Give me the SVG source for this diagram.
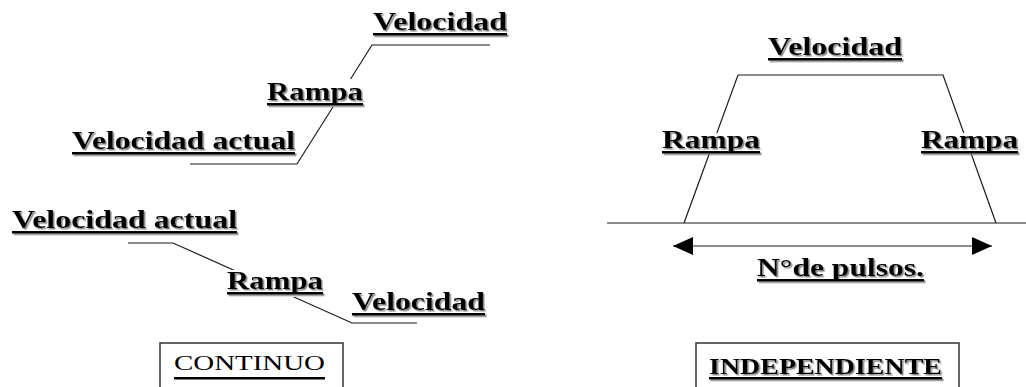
<svg xmlns="http://www.w3.org/2000/svg" width="1026" height="387" viewBox="0 0 1026 387">
<style>
.lbl{font-family:"Liberation Serif","Times New Roman",serif;font-weight:bold;font-size:26px;fill:#000}
.ttl{font-family:"Liberation Serif","Times New Roman",serif;font-size:20px;fill:#000}
.ttlb{font-family:"Liberation Serif","Times New Roman",serif;font-weight:bold;font-size:23px;fill:#000}
.sh{filter:url(#sh)}
.ul{fill:#000}
.bg{fill:#fff}
.ln{stroke:#1a1a1a;stroke-width:1.2;fill:none}
.box{fill:#fff;stroke:#333;stroke-width:1.5}
</style>
<defs>
<filter id="sh" x="-10%" y="-20%" width="120%" height="150%">
<feDropShadow dx="1.5" dy="1.5" stdDeviation="0.7" flood-color="#777" flood-opacity="0.9"/>
</filter>
<marker id="ah" viewBox="0 0 20 18" refX="20" refY="9" markerWidth="20" markerHeight="18" markerUnits="userSpaceOnUse" orient="auto-start-reverse">
<path d="M0,0 L20,9 L0,18 Z" fill="#000"/>
</marker>
</defs>
<rect width="1026" height="387" fill="#fff"/>
<g id="connectors">
<polyline class="ln" points="490,45 372,45 297,164 190,164"/>
<polyline class="ln" points="128,243 173,243 352,323 417,323"/>
<polyline class="ln" points="684,223 738,75 943,75 996,223"/>
<line class="ln" x1="607" y1="223" x2="1026" y2="223"/>
<line class="ln" x1="673" y1="246" x2="992" y2="246" marker-start="url(#ah)" marker-end="url(#ah)"/>
</g>
<g id="n-vel-top"><rect class="bg" x="371" y="10" width="138" height="28"/><g class="sh"><text class="lbl" x="373" y="30" textLength="134" lengthAdjust="spacingAndGlyphs">Velocidad</text><rect class="ul" x="373" y="33" width="134" height="2.5"/></g></g>
<g id="n-rampa-top"><rect class="bg" x="265" y="79" width="100" height="28"/><g class="sh"><text class="lbl" x="267" y="100" textLength="96" lengthAdjust="spacingAndGlyphs">Rampa</text><rect class="ul" x="267" y="103" width="96" height="2.5"/></g></g>
<g id="n-velact-top"><rect class="bg" x="70" y="128" width="228" height="28"/><g class="sh"><text class="lbl" x="72" y="149" textLength="223" lengthAdjust="spacingAndGlyphs">Velocidad actual</text><rect class="ul" x="72" y="152" width="223" height="2.5"/></g></g>
<g id="n-velact-bot"><rect class="bg" x="10" y="207" width="230" height="28"/><g class="sh"><text class="lbl" x="12" y="228" textLength="225" lengthAdjust="spacingAndGlyphs">Velocidad actual</text><rect class="ul" x="12" y="231" width="225" height="2.5"/></g></g>
<g id="n-rampa-bot"><rect class="bg" x="227" y="270" width="97" height="27"/><g class="sh"><text class="lbl" x="227" y="289" textLength="96" lengthAdjust="spacingAndGlyphs">Rampa</text><rect class="ul" x="227" y="292" width="96" height="2.5"/></g></g>
<g id="n-vel-bot"><rect class="bg" x="350" y="289" width="138" height="28"/><g class="sh"><text class="lbl" x="352" y="310" textLength="133" lengthAdjust="spacingAndGlyphs">Velocidad</text><rect class="ul" x="352" y="313" width="133" height="2.5"/></g></g>
<g id="n-continuo"><rect class="box" x="160" y="343" width="183" height="60"/><text class="ttl" x="174" y="370" textLength="151" lengthAdjust="spacingAndGlyphs">CONTINUO</text><rect class="ul" x="174" y="377" width="151" height="2.5"/></g>
<g id="n-vel-right"><rect class="bg" x="766" y="36" width="138" height="26"/><g class="sh"><text class="lbl" x="768" y="55" textLength="134" lengthAdjust="spacingAndGlyphs">Velocidad</text><rect class="ul" x="768" y="58" width="134" height="2.5"/></g></g>
<g id="n-rampa-left"><rect class="bg" x="660" y="133" width="101" height="20"/><g class="sh"><text class="lbl" x="662" y="148" textLength="98" lengthAdjust="spacingAndGlyphs">Rampa</text><rect class="ul" x="662" y="151" width="98" height="2.5"/></g></g>
<g id="n-rampa-right"><rect class="bg" x="919" y="133" width="101" height="20"/><g class="sh"><text class="lbl" x="921" y="148" textLength="97" lengthAdjust="spacingAndGlyphs">Rampa</text><rect class="ul" x="921" y="151" width="97" height="2.5"/></g></g>
<g id="n-pulsos"><rect class="bg" x="755" y="255" width="172" height="28"/><g class="sh"><text class="lbl" x="757" y="276" textLength="167" lengthAdjust="spacingAndGlyphs">N°de pulsos.</text><rect class="ul" x="757" y="279" width="167" height="2.5"/></g></g>
<g id="n-indep"><rect class="box" x="696" y="343" width="263" height="60"/><g class="sh"><text class="ttlb" x="709" y="374" textLength="233" lengthAdjust="spacingAndGlyphs">INDEPENDIENTE</text><rect class="ul" x="709" y="377" width="233" height="2.5"/></g></g>
</svg>
